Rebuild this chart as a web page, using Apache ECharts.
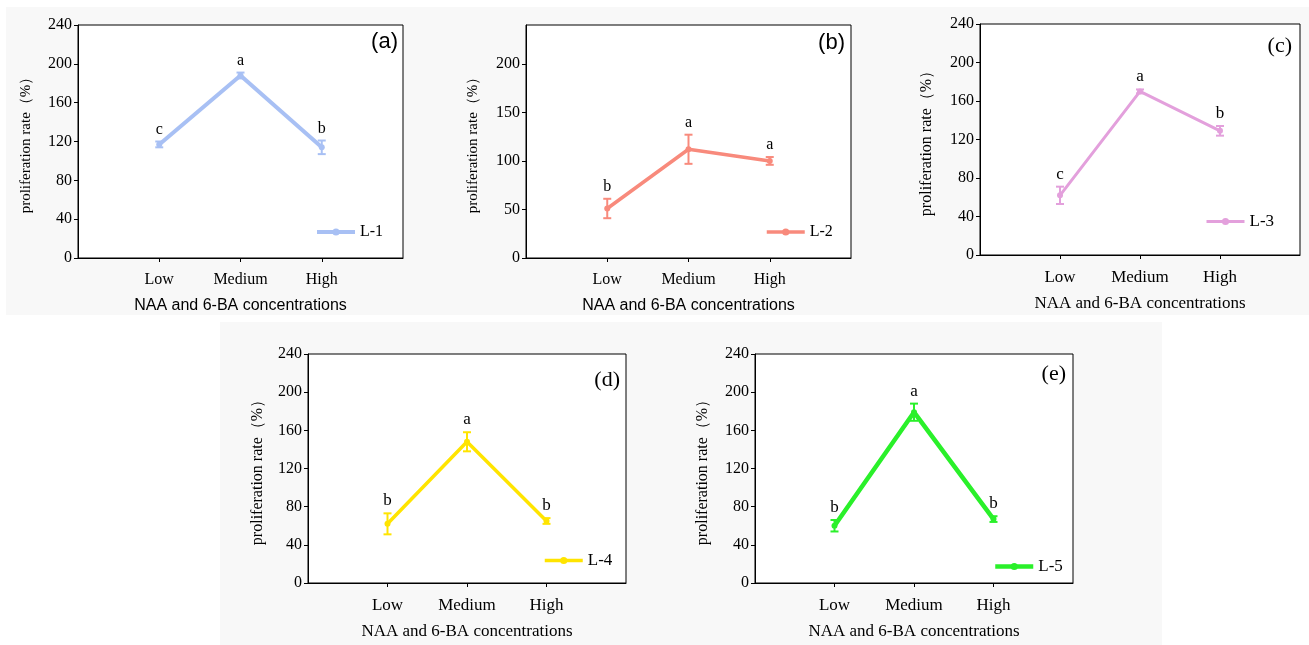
<!DOCTYPE html>
<html>
<head>
<meta charset="utf-8">
<script src="https://cdn.jsdelivr.net/npm/echarts@6/dist/echarts.min.js"></script>
<style>
  html, body { margin: 0; padding: 0; background: #fff; }
  #main { width: 1309px; height: 645px; }
</style>
</head>
<body>
<div id="main"></div>
<script>
"use strict";
// 横轴类别（两端留空，让三个点落在 1/4、2/4、3/4 处）
var categories = ['', 'Low', 'Medium', 'High', ''];
var seriesNames = ['L-1', 'L-2', 'L-3', 'L-4', 'L-5'];
var panelTags = ['(a)', '(b)', '(c)', '(d)', '(e)'];
var xAxisTitle = 'NAA and 6-BA concentrations';
var yAxisTitle = 'proliferation rate（%）';

// 各品系均值 / 误差 / 显著性字母
var l1Mean = [117, 188, 114], l1Err = [3, 3, 7], l1Letters = ['c', 'a', 'b'];
var l2Mean = [51, 112, 100], l2Err = [10, 15, 4], l2Letters = ['b', 'a', 'a'];
var l3Mean = [62, 170, 129], l3Err = [9, 2, 5], l3Letters = ['c', 'a', 'b'];
var l4Mean = [62, 148, 65], l4Err = [11, 10, 3], l4Letters = ['b', 'a', 'b'];
var l5Mean = [60, 179, 67], l5Err = [6, 9, 3], l5Letters = ['b', 'a', 'b'];

// 纵轴刻度
var yTicks40 = [0, 40, 80, 120, 160, 200, 240];
var yTicks50 = [0, 50, 100, 150, 200];
var yMax = 240;

var means = [l1Mean, l2Mean, l3Mean, l4Mean, l5Mean];
var errs = [l1Err, l2Err, l3Err, l4Err, l5Err];
var letters = [l1Letters, l2Letters, l3Letters, l4Letters, l5Letters];
var ticks = [yTicks40, yTicks50, yTicks40, yTicks40, yTicks40];

// 版式（位置、颜色、字体）
var SERIF = '"Liberation Serif", "Times New Roman", serif';
var SANS = '"Liberation Sans", Arial, sans-serif';
var layout = [
  {grid: [78, 25, 325, 233], color: '#a8c0f4', lw: 4, leg: [315, 224], tag: [398, 42], tagFont: SANS, nameFont: SANS, yGap: 44},
  {grid: [526, 25, 325, 233], color: '#f88a7c', lw: 3.5, leg: [765, 224], tag: [845, 43], tagFont: SANS, nameFont: SANS, yGap: 45},
  {grid: [980, 24, 320, 231], color: '#e3a0dc', lw: 3, leg: [1205, 213], tag: [1292, 46], tagFont: SERIF, nameFont: SERIF, yGap: 45},
  {grid: [308, 354, 318, 229], color: '#ffe400', lw: 3.5, leg: [543, 552], tag: [620, 380], tagFont: SERIF, nameFont: SERIF, yGap: 42},
  {grid: [755, 354, 318, 229], color: '#2af02a', lw: 4.5, leg: [993, 558], tag: [1066, 374], tagFont: SERIF, nameFont: SERIF, yGap: 44}
];

var grids = [], xAxes = [], yAxes = [], series = [], legends = [], graphics = [];

graphics.push({type: 'rect', z: -10, shape: {x: 6, y: 7, width: 1303, height: 308}, style: {fill: '#f8f8f8'}});
graphics.push({type: 'rect', z: -10, shape: {x: 220, y: 322, width: 942, height: 323}, style: {fill: '#f8f8f8'}});

layout.forEach(function (p, i) {
  var tickList = ticks[i];
  grids.push({
    left: p.grid[0], top: p.grid[1], width: p.grid[2], height: p.grid[3],
    show: true, backgroundColor: '#fff', borderColor: '#000', borderWidth: 1
  });
  xAxes.push({
    gridIndex: i,
    type: 'category',
    data: categories,
    boundaryGap: false,
    name: xAxisTitle,
    nameLocation: 'middle',
    nameGap: 40,
    nameTextStyle: {fontFamily: p.nameFont, fontSize: i < 2 ? 16 : 17, color: '#000'},
    axisLine: {lineStyle: {color: '#000', width: 1}},
    axisTick: {
      show: true, length: 4, inside: false,
      interval: function (idx) { return idx > 0 && idx < 4; },
      lineStyle: {color: '#000'}
    },
    axisLabel: {interval: 0, margin: 14, fontFamily: SERIF, fontSize: i < 2 ? 16 : 17, color: '#000'},
    splitLine: {show: false}
  });
  yAxes.push({
    gridIndex: i,
    type: 'value',
    min: 0,
    max: yMax,
    name: yAxisTitle,
    nameLocation: 'middle',
    nameRotate: 90,
    nameGap: p.yGap,
    nameTextStyle: {fontFamily: SERIF, fontSize: i < 2 ? 15 : 16, color: '#000'},
    axisLine: {show: true, lineStyle: {color: '#000', width: 1}},
    axisTick: {show: true, length: 4, inside: false, customValues: tickList, lineStyle: {color: '#000'}},
    axisLabel: {fontFamily: SERIF, fontSize: 16, color: '#000', margin: 6, customValues: tickList},
    splitLine: {show: false}
  });

  var pts = means[i].map(function (v, k) { return [k + 1, v]; });
  var errPts = means[i].map(function (v, k) { return [k + 1, v, errs[i][k]]; });

  series.push({
    name: seriesNames[i],
    type: 'line',
    xAxisIndex: i, yAxisIndex: i,
    data: pts,
    symbol: 'circle',
    symbolSize: 6,
    lineStyle: {color: p.color, width: p.lw},
    itemStyle: {color: p.color},
    silent: true,
    animation: false,
    z: 3
  });
  series.push({
    name: seriesNames[i] + '-err',
    type: 'custom',
    xAxisIndex: i, yAxisIndex: i,
    data: errPts,
    encode: {x: 0, y: 1},
    silent: true,
    animation: false,
    z: 4,
    renderItem: function (params, api) {
      var x = api.value(0), y = api.value(1), e = api.value(2);
      var top = api.coord([x, y + e]);
      var bot = api.coord([x, y - e]);
      var hw = 4;
      var st = {stroke: p.color, lineWidth: 2};
      return {
        type: 'group',
        children: [
          {type: 'line', shape: {x1: top[0], y1: top[1], x2: bot[0], y2: bot[1]}, style: st},
          {type: 'line', shape: {x1: top[0] - hw, y1: top[1], x2: top[0] + hw, y2: top[1]}, style: st},
          {type: 'line', shape: {x1: bot[0] - hw, y1: bot[1], x2: bot[0] + hw, y2: bot[1]}, style: st},
          {type: 'text', x: top[0], y: top[1] - 4, style: {
            text: letters[i][params.dataIndex],
            align: 'center', verticalAlign: 'bottom',
            textAlign: 'center', textVerticalAlign: 'bottom',
            font: (i < 2 ? '16px ' : '17px ') + SERIF, fill: '#000'
          }}
        ]
      };
    }
  });

  legends.push({
    data: [seriesNames[i]],
    left: p.leg[0], top: p.leg[1],
    padding: 0,
    itemWidth: 38, itemHeight: 9,
    itemGap: 8,
    selectedMode: false,
    lineStyle: {width: p.lw},
    textStyle: {fontFamily: SERIF, fontSize: i < 2 ? 16 : 17, color: '#000'}
  });

  graphics.push({
    type: 'text', x: p.tag[0], y: p.tag[1], z: 10,
    style: {
      text: panelTags[i],
      align: 'right', verticalAlign: 'middle',
      textAlign: 'right', textVerticalAlign: 'middle',
      font: '22px ' + p.tagFont, fill: '#000'
    }
  });
});

var myChart = echarts.init(document.getElementById('main'));
myChart.setOption({
  backgroundColor: '#fff',
  animation: false,
  grid: grids,
  xAxis: xAxes,
  yAxis: yAxes,
  legend: legends,
  graphic: graphics,
  series: series
});
</script>
</body>
</html>
